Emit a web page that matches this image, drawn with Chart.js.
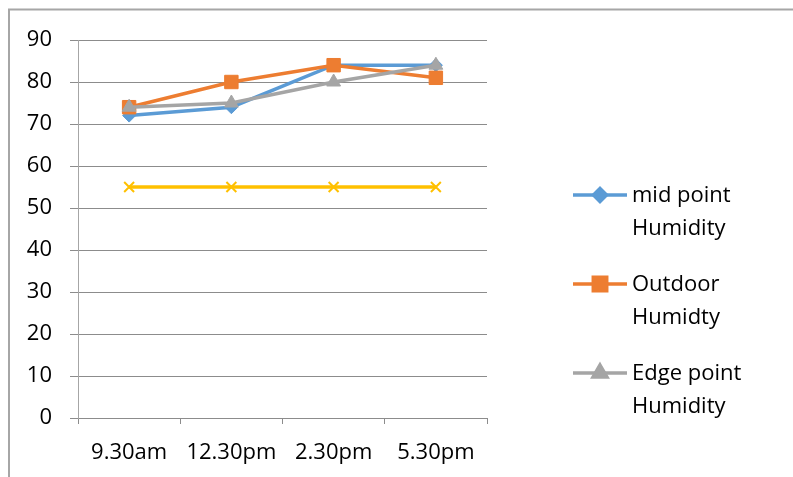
<!DOCTYPE html>
<html>
<head>
<meta charset="utf-8">
<script src="https://cdn.jsdelivr.net/npm/chart.js@4.4.1/dist/chart.umd.min.js"></script>
<style>
  html, body { margin: 0; padding: 0; background: #fff; }
  #wrap { position: relative; width: 793px; height: 477px; }
</style>
</head>
<body>
<div id="wrap"><canvas id="humidityChart" width="793" height="477"></canvas></div>
<script>
const times = ["9.30am", "12.30pm", "2.30pm", "5.30pm"];
const midPoint = [72, 74, 84, 84];
const outdoor = [74, 80, 84, 81];
const edgePoint = [74, 75, 80, 84];
const baseline = [55, 55, 55, 55];

// legend text as Excel wraps it (the 4th series is cut off in the original)
const legendLines = [
  ["mid point", "Humidity"],
  ["Outdoor", "Humidty"],
  ["Edge point", "Humidity"]
];

const FONT = "'Open Sans', 'Noto Sans', sans-serif";
const gridColor = "#8c8c8c";

// grey frame of the chart object (top and left edges visible)
const framePlugin = {
  id: "frame",
  beforeDraw(chart) {
    const ctx = chart.ctx;
    ctx.save();
    ctx.strokeStyle = "#a6a6a6";
    ctx.lineWidth = 2;
    ctx.beginPath();
    ctx.moveTo(9, 477);
    ctx.lineTo(9, 9.5);
    ctx.lineTo(793, 9.5);
    ctx.stroke();
    ctx.restore();
  }
};

const legendPlugin = {
  id: "sideLegend",
  afterDraw(chart) {
    const ctx = chart.ctx;
    ctx.save();
    legendLines.forEach((lines, i) => {
      const ds = chart.data.datasets[i];
      const y = 195 + i * 89;
      ctx.strokeStyle = ds.borderColor;
      ctx.lineWidth = 3.5;
      ctx.beginPath();
      ctx.moveTo(573, y);
      ctx.lineTo(627, y);
      ctx.stroke();
      Chart.helpers.drawPoint(ctx, {
        pointStyle: ds.pointStyle,
        radius: ds.pointRadius,
        borderWidth: 1
      }, 600, y);
      ctx.fillStyle = ds.borderColor;
      ctx.fill();
      ctx.fillStyle = "#000";
      ctx.font = "22px " + FONT;
      ctx.textBaseline = "middle";
      ctx.textAlign = "left";
      lines.forEach((t, j) => ctx.fillText(t, 632, y + 1 + j * 33));
    });
    ctx.restore();
  }
};

function series(label, data, color, style, radius, order) {
  return {
    label: label,
    data: data,
    borderColor: color,
    backgroundColor: color,
    borderWidth: 3.5,
    pointStyle: style,
    pointRadius: radius,
    pointHoverRadius: radius,
    pointBorderColor: color,
    pointBackgroundColor: color,
    pointBorderWidth: 1,
    tension: 0,
    order: order
  };
}

new Chart(document.getElementById("humidityChart"), {
  type: "line",
  data: {
    labels: times,
    datasets: [
      series("mid point Humidity", midPoint, "#5B9BD5", "rectRot", 6.5, 4),
      series("Outdoor Humidty", outdoor, "#ED7D31", "rect", 9.5, 3),
      series("Edge point Humidity", edgePoint, "#A5A5A5", "triangle", 8, 2),
      Object.assign(series("", baseline, "#FFC000", "crossRot", 7, 1), { pointBorderWidth: 2 })
    ]
  },
  options: {
    responsive: false,
    animation: false,
    layout: { padding: { top: 40, right: 306, bottom: 0, left: 0 } },
    plugins: { legend: { display: false }, tooltip: { enabled: false } },
    scales: {
      x: {
        offset: true,
        grid: { drawOnChartArea: false, drawTicks: true, tickLength: 6, color: gridColor, offset: true },
        border: { color: gridColor, width: 1 },
        ticks: { color: "#000", font: { family: FONT, size: 22 }, padding: 16, maxRotation: 0 },
        afterFit(scale) { scale.height = 59; }
      },
      y: {
        min: 0,
        max: 90,
        ticks: { stepSize: 10, color: "#000", font: { family: FONT, size: 22 }, padding: 18 },
        grid: { color: gridColor, tickLength: 8, drawTicks: true },
        border: { color: "#a6a6a6", width: 1 },
        afterFit(scale) { scale.width = 78; }
      }
    }
  },
  plugins: [framePlugin, legendPlugin]
});
</script>
</body>
</html>
